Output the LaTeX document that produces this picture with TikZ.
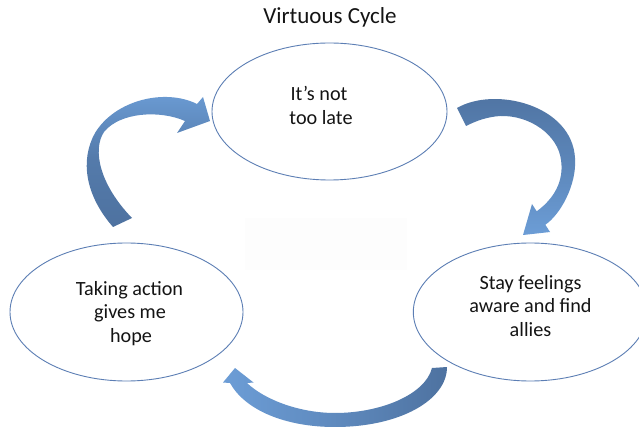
\documentclass[tikz,border=0pt]{standalone}
\usepackage{fontspec}
\setmainfont{Carlito}
\usetikzlibrary{shapes.geometric}

\definecolor{ringblue}{RGB}{92,126,180}
\definecolor{arrowdark}{RGB}{78,114,160}
\definecolor{arrowlight}{RGB}{108,157,214}
\definecolor{inktext}{RGB}{20,20,20}

\tikzset{
  bubble/.style={draw=ringblue, line width=0.9pt, ellipse, fill=white,
                 inner sep=0pt},
  bubbletext/.style={text=inktext, align=center, inner sep=0pt,
                     font=\fontsize{20.2}{23.5}\selectfont},
  headline/.style={text=inktext, inner sep=0pt,
                   font=\fontsize{23}{27}\selectfont},
  bandarrow/.style={draw=none},
}

\begin{document}
\begin{tikzpicture}[x=1pt, y=-1pt]
  \useasboundingbox (0,0) rectangle (639,427);
  \clip (0,0) rectangle (639,427);
  \fill[white] (0,0) rectangle (639,427);

  % title
  \node[headline] (title) at (330,17) {Virtuous Cycle};

  % faint placeholder panel in the middle
  \node[fill=black!0.8, draw=none, minimum width=162pt, minimum height=52pt,
        inner sep=0pt] (panel) at (326,244) {};

  % the three stages
  \node[bubble, minimum width=235pt, minimum height=137pt] (late)  at (329.5,111.5) {};
  \node[bubble, minimum width=233pt, minimum height=138pt] (hope)  at (126.5,312) {};
  \node[bubble, minimum width=234pt, minimum height=138pt] (allies) at (530.3,312) {};

  \node[bubbletext, anchor=base] (lateA) at (319,100.7) {It’s not};
  \node[bubbletext, anchor=base] (lateB) at (321,124.2) {too late};

  \node[bubbletext, anchor=base] (hopeA) at (129.5,295) {Taking action};
  \node[bubbletext, anchor=base] (hopeB) at (130,318.5) {gives me};
  \node[bubbletext, anchor=base] (hopeC) at (131,342) {hope};

  \node[bubbletext, anchor=base] (alliesA) at (530.5,289.3) {Stay feelings};
  \node[bubbletext, anchor=base] (alliesB) at (530.5,312.8) {aware and find};
  \node[bubbletext, anchor=base] (alliesC) at (530.5,336.3) {allies};

  % curved block arrow: top stage -> right stage
  \shade[bandarrow, top color=arrowdark, bottom color=arrowlight,
         middle color=arrowdark!55!arrowlight]
    (457,108) .. controls (495,86) and (572,105) .. (575,158)
    .. controls (577,185) and (560,215) .. (545.3,224.7)
    -- (550,232) -- (523,235) -- (532,204) -- (536.7,211.3)
    .. controls (555,198) and (564,180) .. (561,160)
    .. controls (558,135) and (530,115) .. (500,116)
    .. controls (487,117) and (476.7,120.6) .. (466,126) -- cycle;

  % curved block arrow: left stage -> top stage
  \shade[bandarrow, top color=arrowlight, bottom color=arrowdark,
         middle color=arrowdark!80!arrowlight]
    (113,227) .. controls (85,195) and (80,160) .. (95,133)
    .. controls (115,100) and (165,88) .. (197,104)
    -- (203,97) -- (210,121) -- (177,133) -- (185,121)
    .. controls (160,110) and (120,112) .. (104,132)
    .. controls (92,150) and (100,185) .. (132,218) -- cycle;

  % curved block arrow: right stage -> left stage
  \shade[bandarrow, left color=arrowlight, right color=arrowdark,
         middle color=arrowdark!45!arrowlight]
    (447,367) .. controls (447,400) and (400,427) .. (335,427)
    .. controls (285,427) and (245,410) .. (230,383)
    -- (223,382.5) -- (235,368) -- (253.5,382.5) -- (247,383)
    .. controls (265,400) and (300,413) .. (335,413)
    .. controls (380,413) and (425,395) .. (432,368) -- cycle;
\end{tikzpicture}
\end{document}
